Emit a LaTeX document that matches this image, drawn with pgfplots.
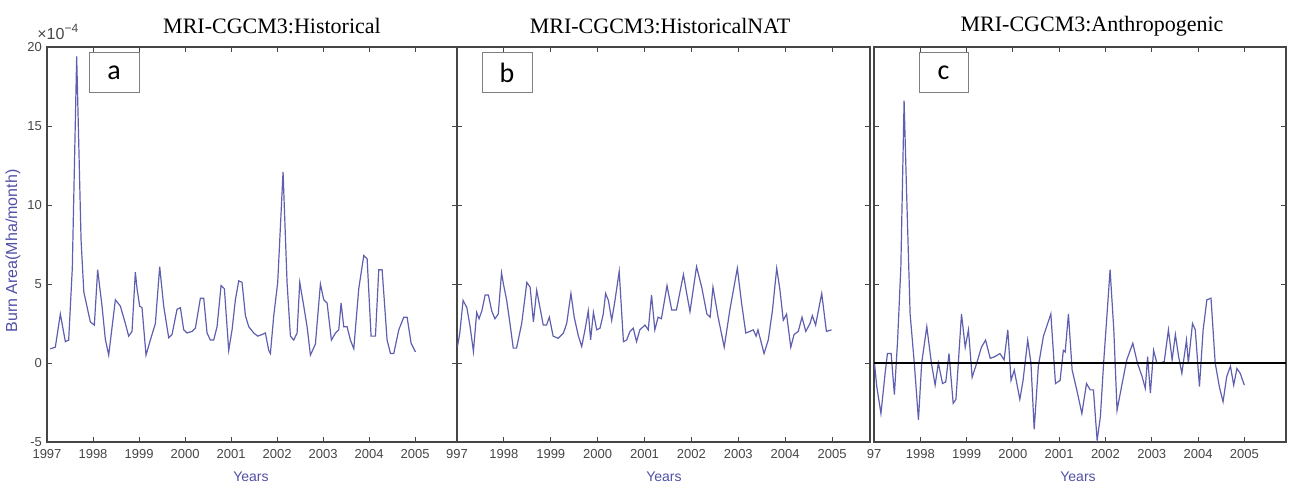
\documentclass[border=0pt]{standalone}
\usepackage{fontspec}
\setmainfont{Liberation Serif}
\newfontfamily\arial{Liberation Sans}
\newfontfamily\calib{Carlito}
\usepackage{pgfplots}
\usepackage{pgfplotstable}
\pgfplotsset{compat=1.18}

\definecolor{trace}{RGB}{95,95,175}
\definecolor{labblue}{RGB}{80,80,165}
\definecolor{axgray}{RGB}{70,70,70}

% burnt area, units of 1e-4 Mha/month
\pgfplotstableread{
yr val
1997.072 0.9
1997.181 1.0
1997.290 3.1
1997.399 1.35
1997.471 1.45
1997.550 6.0
1997.645 19.4
1997.740 7.8
1997.800 4.5
1997.942 2.6
1998.029 2.4
1998.101 5.9
1998.196 3.6
1998.268 1.5
1998.341 0.5
1998.486 4.0
1998.594 3.6
1998.703 2.5
1998.775 1.7
1998.848 2.0
1998.920 5.75
1998.957 4.7
1999.014 3.6
1999.065 3.5
1999.152 0.5
1999.246 1.45
1999.355 2.5
1999.449 6.1
1999.536 3.6
1999.645 1.6
1999.717 1.8
1999.826 3.4
1999.899 3.5
1999.971 2.1
2000.043 1.9
2000.152 2.0
2000.225 2.2
2000.333 4.1
2000.406 4.1
2000.478 1.9
2000.551 1.45
2000.623 1.45
2000.696 2.3
2000.783 4.9
2000.855 4.7
2000.949 0.8
2001.022 2.1
2001.094 4.0
2001.167 5.2
2001.239 5.1
2001.312 3.0
2001.384 2.3
2001.493 1.9
2001.580 1.7
2001.674 1.8
2001.746 1.9
2001.819 0.8
2001.855 0.6
2001.928 3.0
2002.014 5.1
2002.130 12.1
2002.217 5.1
2002.290 1.7
2002.362 1.45
2002.435 1.9
2002.493 5.1
2002.580 3.6
2002.652 2.3
2002.725 0.5
2002.833 1.2
2002.942 5.0
2003.014 4.0
2003.087 3.8
2003.181 1.45
2003.268 1.9
2003.341 2.1
2003.391 3.8
2003.449 2.3
2003.522 2.3
2003.594 1.45
2003.667 0.9
2003.775 4.7
2003.884 6.8
2003.957 6.6
2004.043 1.7
2004.138 1.7
2004.210 5.9
2004.283 5.9
2004.391 1.45
2004.464 0.6
2004.536 0.6
2004.645 2.1
2004.754 2.9
2004.826 2.9
2004.913 1.25
2005.007 0.7
}\histA

\pgfplotstableread{
yr val
1997.01 1.04
1997.06 1.9
1997.13 3.96
1997.21 3.5
1997.28 2.3
1997.35 0.73
1997.42 3.2
1997.47 2.8
1997.53 3.3
1997.60 4.3
1997.67 4.3
1997.74 3.3
1997.81 2.8
1997.88 3.1
1997.95 5.7
1997.99 5.0
1998.06 3.96
1998.13 2.5
1998.20 0.94
1998.27 0.94
1998.38 2.5
1998.49 5.1
1998.56 4.8
1998.63 2.6
1998.70 4.6
1998.77 3.5
1998.84 2.4
1998.91 2.4
1998.97 2.9
1999.05 1.7
1999.16 1.56
1999.27 1.9
1999.34 2.5
1999.43 4.4
1999.50 2.9
1999.59 1.7
1999.66 1.04
1999.73 2.1
1999.80 3.3
1999.85 1.46
1999.91 3.2
1999.98 2.1
2000.05 2.2
2000.12 3.1
2000.17 4.4
2000.23 3.96
2000.30 2.7
2000.37 3.96
2000.46 5.8
2000.55 1.35
2000.62 1.46
2000.69 2.0
2000.76 2.2
2000.83 1.35
2000.90 2.1
2001.01 2.4
2001.08 2.1
2001.15 4.3
2001.22 2.1
2001.29 2.9
2001.36 2.8
2001.48 4.9
2001.58 3.35
2001.68 3.35
2001.83 5.6
2001.90 4.4
2001.97 3.25
2002.11 6.1
2002.22 4.8
2002.33 3.1
2002.40 2.9
2002.46 4.8
2002.57 2.9
2002.70 1.0
2002.82 3.35
2002.98 6.0
2003.07 3.8
2003.16 1.9
2003.25 2.0
2003.32 2.1
2003.38 1.7
2003.42 2.1
2003.55 0.6
2003.64 1.46
2003.73 3.35
2003.82 6.0
2003.89 4.6
2003.96 2.7
2004.03 3.1
2004.12 1.0
2004.19 1.8
2004.28 2.0
2004.36 2.9
2004.44 2.0
2004.53 2.5
2004.58 3.0
2004.65 2.4
2004.78 4.4
2004.88 2.0
2004.99 2.1
}\histNAT

\pgfplotstableread{
yr val
1997.01 0
1997.06 -1.5
1997.15 -3.2
1997.24 -0.65
1997.29 0.6
1997.37 0.6
1997.44 -2.0
1997.51 1.45
1997.58 6.1
1997.65 16.6
1997.70 11.2
1997.78 3.1
1997.87 0
1997.96 -3.6
1998.03 0
1998.14 2.3
1998.24 0
1998.32 -1.4
1998.39 0
1998.48 -1.3
1998.55 -1.2
1998.62 0.6
1998.71 -2.55
1998.77 -2.3
1998.89 3.1
1998.97 1.0
1999.04 2.1
1999.12 -0.9
1999.22 0
1999.32 1.0
1999.41 1.45
1999.51 0.3
1999.61 0.4
1999.72 0.6
1999.81 0.2
1999.89 2.1
1999.96 -1.1
2000.03 -0.45
2000.15 -2.3
2000.22 -1.1
2000.32 1.45
2000.39 0
2000.46 -4.2
2000.55 -0.2
2000.66 1.7
2000.82 3.1
2000.92 -1.3
2001.02 -1.1
2001.09 0.8
2001.13 0.7
2001.20 3.1
2001.28 -0.45
2001.38 -1.7
2001.49 -3.2
2001.59 -1.3
2001.67 -1.7
2001.74 -1.7
2001.82 -4.9
2001.89 -3.4
2001.96 0
2002.10 5.9
2002.18 2.1
2002.25 -3.0
2002.36 -1.3
2002.46 0.2
2002.59 1.25
2002.69 0
2002.79 -0.85
2002.86 -1.6
2002.91 0.4
2002.97 -1.9
2003.04 0.8
2003.11 0
2003.20 0
2003.27 0.1
2003.36 2.1
2003.44 0.2
2003.51 1.8
2003.58 0.4
2003.65 -0.65
2003.75 1.45
2003.79 0
2003.88 2.5
2003.94 2.1
2004.03 -1.5
2004.11 2.1
2004.19 4.0
2004.28 4.1
2004.37 0
2004.46 -1.5
2004.54 -2.45
2004.62 -0.85
2004.70 -0.2
2004.77 -1.4
2004.84 -0.35
2004.91 -0.65
2005.00 -1.4
}\anthro

\pgfplotsset{
  panel/.style={
    scale only axis, height=197.5pt, anchor=south west,
    xmin=1997, ymin=-5, ymax=20,
    xtick={1997,1998,...,2005}, ytick={-5,0,5,10,15,20},
    tick align=inside, tick pos=both, major tick length=2.5pt,
    axis line style={axgray, line width=0.6pt},
    tick style={axgray, line width=0.45pt},
    ticklabel style={font=\arial\fontsize{6.5}{7}\selectfont, text=axgray},
    yticklabel style={xshift=1pt},
    /pgf/number format/assume math mode=true,
    /pgf/number format/1000 sep={},
  },
  burn/.style={trace, line width=0.6pt},
}

\begin{document}
\begin{tikzpicture}
\useasboundingbox (0,0) rectangle (644.5pt,243pt);

\begin{axis}[panel, at={(23.5pt,22pt)}, width=205pt, xmax=2005.91]
\addplot[burn] table {\histA};
\end{axis}

\begin{axis}[panel, at={(228.5pt,22pt)}, width=206.5pt, xmax=2005.81,
  yticklabels={},
  xticklabels={997,1998,1999,2000,2001,2002,2003,2004,2005}]
\addplot[burn] table {\histNAT};
\end{axis}

\begin{axis}[panel, at={(437pt,22pt)}, width=206pt, xmax=2005.90,
  yticklabels={},
  xticklabels={97,1998,1999,2000,2001,2002,2003,2004,2005}]
\addplot[burn] table {\anthro};
\addplot[black, line width=0.6pt] coordinates {(1997,0) (2005.90,0)};
\end{axis}

% pixel frame for the annotations
\begin{scope}[x=0.5pt, y=-0.5pt, shift={(0,243pt)}]
\node at (272,26) {\fontsize{11}{13}\selectfont MRI-CGCM3:Historical};
\node at (660,26) {\fontsize{11}{13}\selectfont MRI-CGCM3:HistoricalNAT};
\node at (1092,26) {\fontsize{11}{13}\selectfont MRI-CGCM3:Anthropogenic};

\node[anchor=base west, inner sep=0pt, text=axgray] at (37,39.5)
  {\arial\fontsize{8}{9}\selectfont ×10\raisebox{3.5pt}{\fontsize{6}{7}\selectfont −4}};

\node[rotate=90, text=labblue] at (13,251)
  {\arial\fontsize{8}{9}\selectfont Burn Area(Mha/month)};
\foreach \xx in {251,664,1078}
  \node[text=labblue] at (\xx,477) {\arial\fontsize{7}{8}\selectfont Years};

\draw[gray, fill=white, line width=0.5pt] (89,53) rectangle (139,93);
\node at (114,73) {\calib\fontsize{14}{16}\selectfont a};
\draw[gray, fill=white, line width=0.5pt] (482,53) rectangle (532,93);
\node at (507,73) {\calib\fontsize{14}{16}\selectfont b};
\draw[gray, fill=white, line width=0.5pt] (919,53) rectangle (968,93);
\node at (943.5,73) {\calib\fontsize{14}{16}\selectfont c};
\end{scope}
\end{tikzpicture}
\end{document}
